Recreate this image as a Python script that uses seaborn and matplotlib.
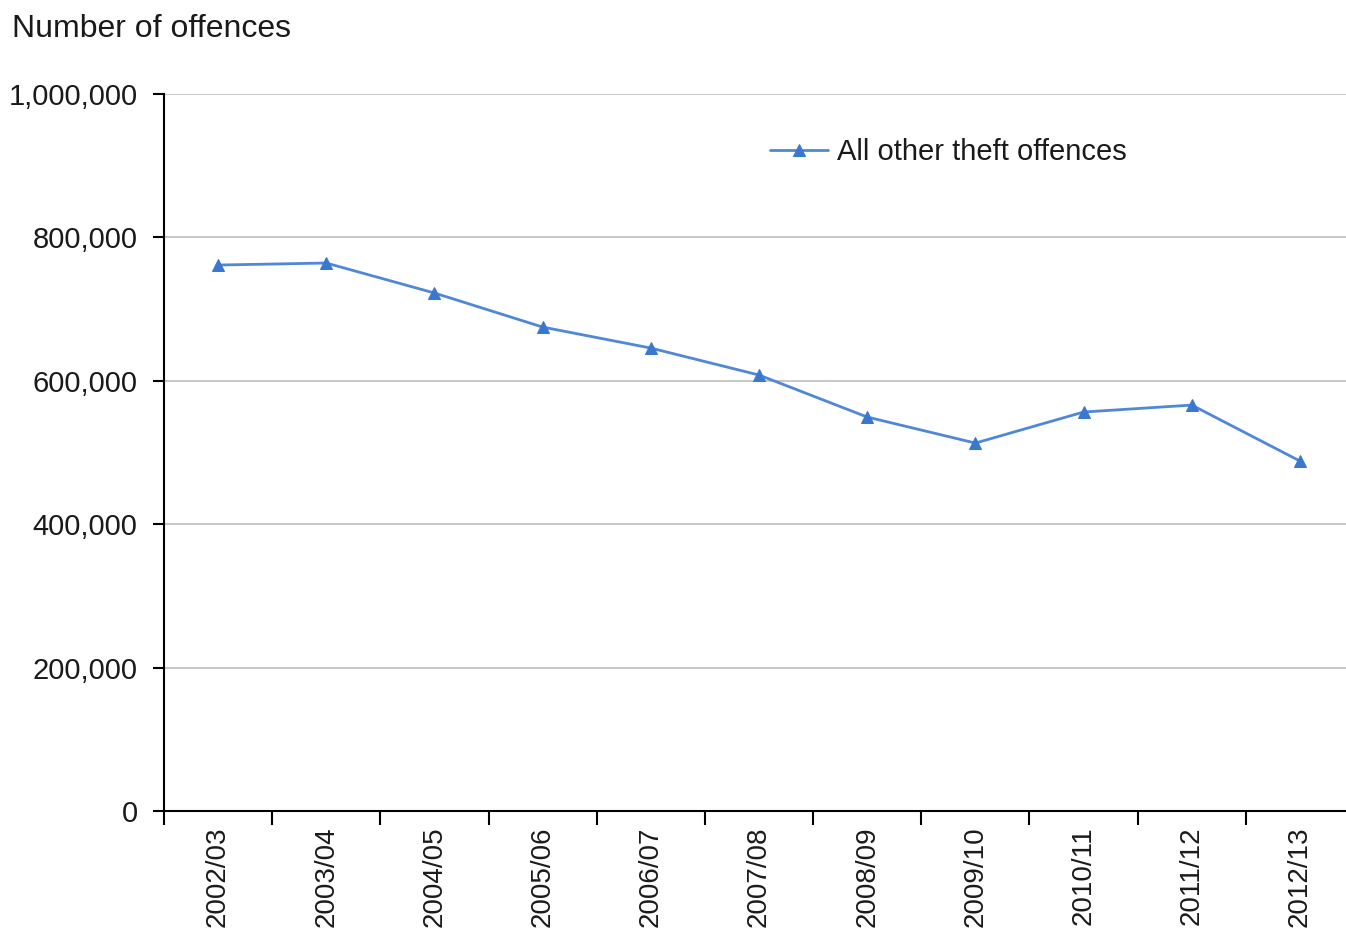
import matplotlib
matplotlib.use("Agg")
import matplotlib.pyplot as plt
import seaborn as sns
import pandas as pd
import numpy as np
from matplotlib.ticker import FuncFormatter, FixedLocator

years = ["2002/03", "2003/04", "2004/05", "2005/06", "2006/07", "2007/08",
         "2008/09", "2009/10", "2010/11", "2011/12", "2012/13"]
offences = [761500, 764300, 722500, 675000, 645700, 608100,
            549500, 513200, 556500, 566200, 488100]
series_name = "All other theft offences"

df = pd.DataFrame({"pos": np.arange(len(years)), "offences": offences,
                   "series": series_name})

sns.set_theme(style="white")
plt.rcParams["font.family"] = ["Liberation Sans", "DejaVu Sans"]

line_color = "#4f88d8"
text_color = "#1a1a1a"

fig = plt.figure(figsize=(13.46, 9.32), dpi=100)
ax = fig.add_axes([0.1218, 0.1298, 0.8842, 0.7693])

sns.lineplot(data=df, x="pos", y="offences", hue="series",
             palette=[line_color], marker="^", markersize=9,
             markeredgecolor="#3a78d0", markerfacecolor="#3a78d0",
             linewidth=2.0, ax=ax)

ax.set_xlim(-0.5, len(years) - 0.5)
ax.set_ylim(0, 1000000)
ax.set_yticks(np.arange(0, 1000001, 200000))
ax.yaxis.set_major_formatter(FuncFormatter(lambda v, p: f"{int(v):,}"))
ax.yaxis.grid(True, color="#c4c4c4", linewidth=1.3)
ax.set_axisbelow(True)

ax.set_xticks(np.arange(len(years)))
ax.set_xticklabels(years, rotation=90, fontsize=20, color=text_color)
ax.xaxis.set_minor_locator(FixedLocator(np.arange(-0.5, len(years), 1.0)))
ax.tick_params(axis="x", which="major", length=0, pad=11)
ax.tick_params(axis="x", which="minor", length=10, width=1.5,
               color="black", direction="out", bottom=True)
ax.tick_params(axis="y", which="major", length=8, width=1.5,
               color="black", direction="out", left=True,
               labelsize=21, labelcolor=text_color, pad=11)

for side in ["top", "right"]:
    ax.spines[side].set_visible(False)
for side in ["left", "bottom"]:
    ax.spines[side].set_color("black")
    ax.spines[side].set_linewidth(1.5)

ax.set_xlabel("")
ax.set_ylabel("")
fig.text(0.009, 0.969, "Number of offences", fontsize=23,
         color=text_color, ha="left", va="center")

leg = ax.legend(loc="upper left", bbox_to_anchor=(0.487, 0.975),
                frameon=False, fontsize=21, handlelength=2.0,
                handletextpad=0.3, labelcolor=text_color)

fig.savefig("out.png", dpi=100)
